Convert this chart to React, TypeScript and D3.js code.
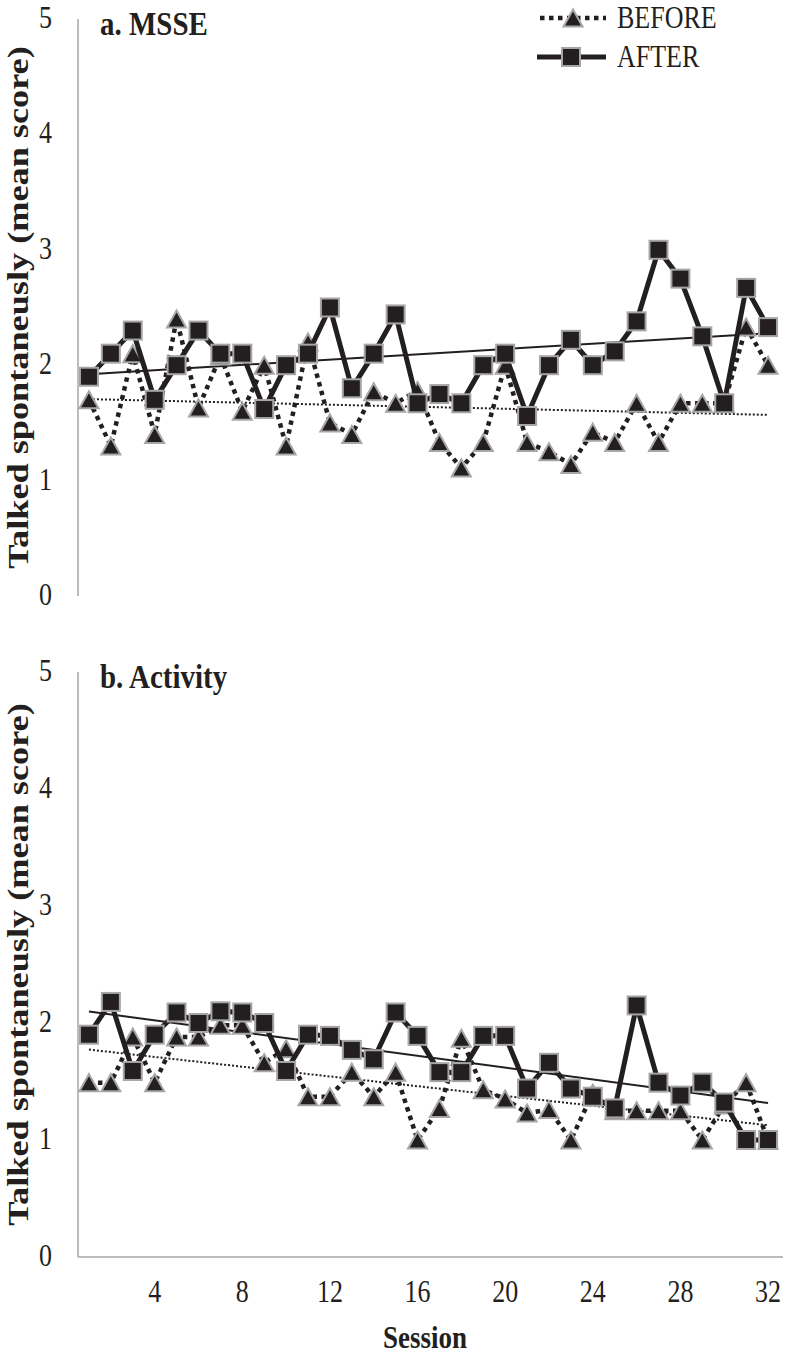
import React from 'react';
import * as d3 from 'd3';

const SESSIONS = d3.range(1, 33);
const X_TICKS = [4, 8, 12, 16, 20, 24, 28, 32];
const Y_TICKS = [0, 1, 2, 3, 4, 5];

const MSSE_BEFORE = [1.7, 1.3, 2.1, 1.4, 2.4, 1.63, 2.08, 1.6, 2.0, 1.3, 2.2, 1.5, 1.4, 1.77, 1.67, 1.78, 1.33, 1.11, 1.33, 2.0, 1.33, 1.25, 1.14, 1.42, 1.33, 1.67, 1.33, 1.67, 1.67, 1.67, 2.33, 2.0];
const MSSE_AFTER = [1.9, 2.1, 2.3, 1.7, 2.0, 2.3, 2.1, 2.1, 1.62, 2.0, 2.1, 2.5, 1.8, 2.1, 2.44, 1.67, 1.75, 1.67, 2.0, 2.1, 1.56, 2.0, 2.22, 2.0, 2.12, 2.38, 3.0, 2.75, 2.25, 1.67, 2.67, 2.33];
const ACT_BEFORE = [1.49, 1.49, 1.88, 1.49, 1.88, 1.88, 1.98, 1.98, 1.66, 1.78, 1.37, 1.37, 1.58, 1.37, 1.58, 1.0, 1.27, 1.87, 1.43, 1.35, 1.23, 1.26, 1.0, 1.4, 1.25, 1.25, 1.25, 1.25, 1.0, 1.3, 1.49, 1.0];
const ACT_AFTER = [1.9, 2.18, 1.59, 1.9, 2.09, 2.0, 2.1, 2.09, 2.0, 1.59, 1.9, 1.89, 1.77, 1.69, 2.09, 1.89, 1.58, 1.58, 1.89, 1.89, 1.44, 1.66, 1.44, 1.37, 1.27, 2.15, 1.49, 1.38, 1.49, 1.32, 1.0, 1.0];

const W = 786, H = 1356;
const X0 = 78, X1 = 779;
const SY = 1.18;
const SY_ROT = 1.25;
const AXIS = '#a6a6a6';
const FILL = '#231f20';
const SERIF = '"Liberation Serif", "Times New Roman", serif';

const PANELS = [
  { title: 'a. MSSE', before: MSSE_BEFORE, after: MSSE_AFTER, top: 19, bottom: 596, xAxis: false },
  { title: 'b. Activity', before: ACT_BEFORE, after: ACT_AFTER, top: 672, bottom: 1257, xAxis: true },
];

function fit(vals: number[]) {
  const xs = SESSIONS;
  const mx = d3.mean(xs)!, my = d3.mean(vals)!;
  let num = 0, den = 0;
  xs.forEach((x, i) => { num += (x - mx) * (vals[i] - my); den += (x - mx) * (x - mx); });
  const b = num / den;
  return (x: number) => my + b * (x - mx);
}

function T({ x, y, children, size, weight = 'normal', anchor = 'start', rotate = 0 }: any) {
  const tr = rotate ? `translate(${x},${y}) rotate(${rotate}) scale(${SY_ROT},1)` : `translate(${x},${y}) scale(1,${SY})`;
  return (
    <text transform={tr} fontFamily={SERIF} fontSize={size} fontWeight={weight} textAnchor={anchor} fill="#231f20">
      {children}
    </text>
  );
}

const xBand = d3.scaleBand<number>().domain(SESSIONS).range([X0, X1]).padding(0);
const cx = (s: number) => (xBand(s) as number) + xBand.bandwidth() / 2;

const SQ = 18;
const TRW = 19, TRH = 17;

function triPath(x: number, y: number) {
  return `M${x},${y - TRH / 2}L${x + TRW / 2},${y + TRH / 2}L${x - TRW / 2},${y + TRH / 2}Z`;
}

function Panel({ p }: any) {
  const y = d3.scaleLinear().domain([0, 5]).range([p.bottom, p.top]);
  const line = d3.line<number>().x((_, i) => cx(SESSIONS[i])).y((v) => y(v));
  const fb = fit(p.before), fa = fit(p.after);
  const trend = (f: (x: number) => number) =>
    d3.line<number>().x((s) => cx(s)).y((s) => y(f(s)))([SESSIONS[0], SESSIONS[SESSIONS.length - 1]]) as string;
  const midY = (p.top + p.bottom) / 2;
  return (
    <g>
      <line x1={X0} x2={X0} y1={y(5)} y2={y(0)} stroke={AXIS} strokeWidth={1.5} />
      {p.xAxis && <line x1={X0} x2={X1 + 4} y1={y(0)} y2={y(0)} stroke={AXIS} strokeWidth={1.5} />}
      {Y_TICKS.map((t) => (
        <T key={t} x={52} y={y(t) + 9} size={26} anchor="end">{t}</T>
      ))}
      {p.xAxis && X_TICKS.map((t) => (
        <T key={t} x={cx(t)} y={y(0) + 45} size={26} anchor="middle">{t}</T>
      ))}
      <T x={28} y={midY} size={29} weight="bold" anchor="middle" rotate={-90}>Talked spontaneusly (mean score)</T>
      <T x={100} y={p.top + 16} size={29} weight="bold">{p.title}</T>

      <path d={trend(fb)} fill="none" stroke={FILL} strokeWidth={2} strokeDasharray="2,2" />
      <path d={trend(fa)} fill="none" stroke={FILL} strokeWidth={2} />

      <path d={line(p.before) as string} fill="none" stroke={FILL} strokeWidth={4.5} strokeDasharray="4.5,4.5" />
      {p.before.map((v: number, i: number) => (
        <path key={'b' + i} d={triPath(cx(SESSIONS[i]), y(v))} fill={FILL} stroke={AXIS} strokeWidth={2} />
      ))}
      <path d={line(p.after) as string} fill="none" stroke={FILL} strokeWidth={5} />
      {p.after.map((v: number, i: number) => (
        <rect key={'a' + i} x={cx(SESSIONS[i]) - SQ / 2} y={y(v) - SQ / 2} width={SQ} height={SQ} fill={FILL} stroke={AXIS} strokeWidth={2} />
      ))}
    </g>
  );
}

function Legend() {
  const rows = [
    { label: 'BEFORE', y: 18, kind: 'before' },
    { label: 'AFTER', y: 57, kind: 'after' },
  ];
  return (
    <g>
      {rows.map((r) => (
        <g key={r.label}>
          {r.kind === 'before' ? (
            <>
              <line x1={540} x2={606} y1={r.y} y2={r.y} stroke={FILL} strokeWidth={4.5} strokeDasharray="4.5,4.5" />
              <path d={triPath(573, r.y)} fill={FILL} stroke={AXIS} strokeWidth={2} />
            </>
          ) : (
            <>
              <line x1={537} x2={606} y1={r.y} y2={r.y} stroke={FILL} strokeWidth={5} />
              <rect x={571 - SQ / 2} y={r.y - SQ / 2} width={SQ} height={SQ} fill={FILL} stroke={AXIS} strokeWidth={2} />
            </>
          )}
          <T x={617} y={r.y + 10} size={26}>{r.label}</T>
        </g>
      ))}
    </g>
  );
}

export default function App() {
  return (
    <svg width={W} height={H} style={{ position: 'absolute', left: 0, top: 0, background: '#fff' }}>
      <rect width={W} height={H} fill="#fff" />
      {PANELS.map((p) => <Panel key={p.title} p={p} />)}
      <Legend />
      <T x={425} y={1348} size={27} weight="bold" anchor="middle">Session</T>
    </svg>
  );
}
